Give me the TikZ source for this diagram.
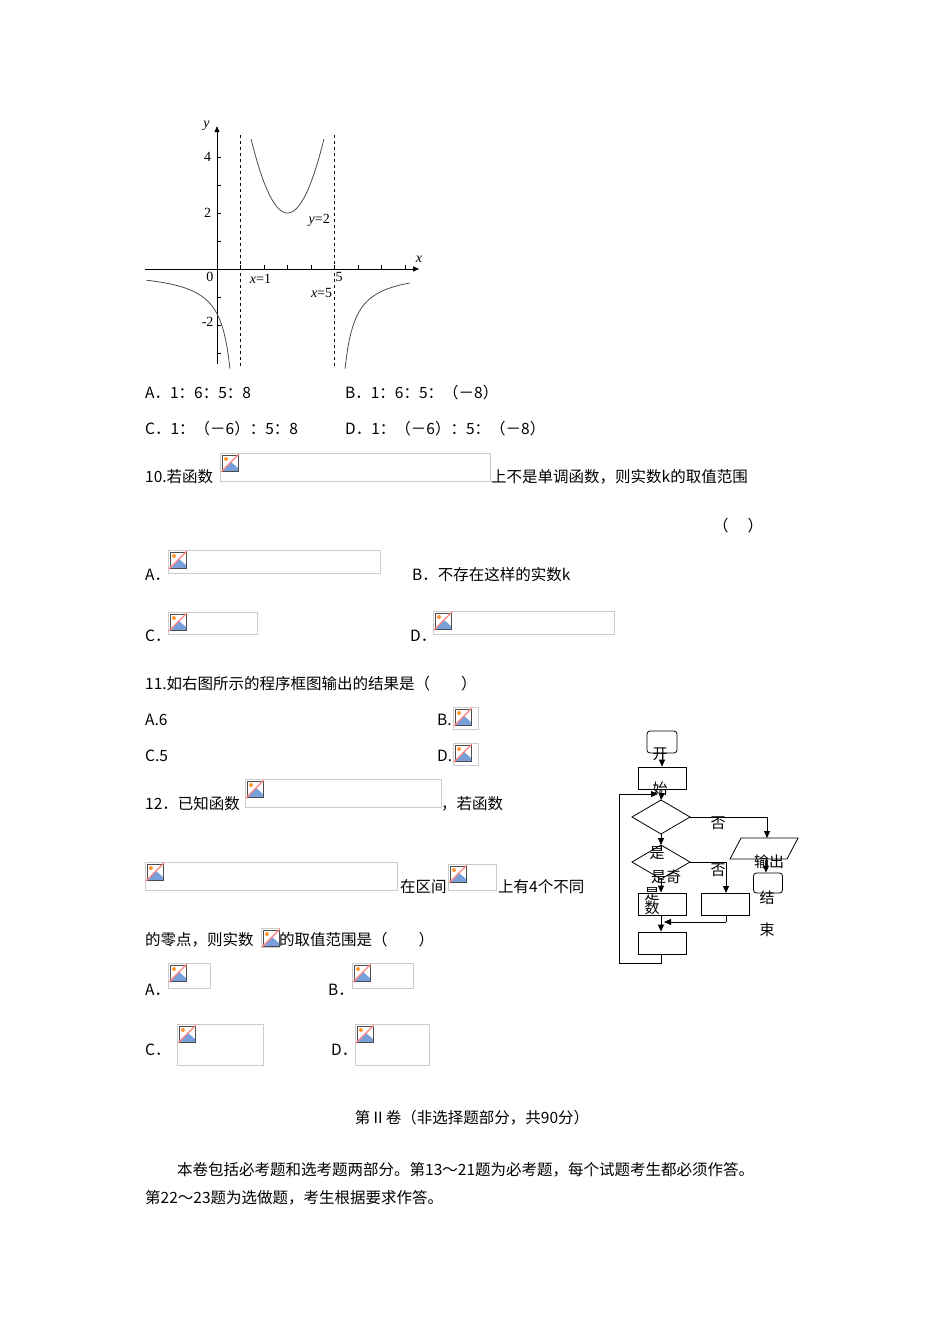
\documentclass[tikz,border=0pt]{standalone}
\usepackage{fontspec}
\setmainfont{Liberation Serif}
\newfontfamily\cjk{Noto Sans CJK SC}
\usetikzlibrary{arrows.meta}
\newcommand{\bimg}[4]{%
 \draw[draw=black!20,line width=0.8pt] (#1,#2) rectangle ++(#3,#4);
 \begin{scope}[shift={(#1+1,#2+1)}]
  \fill[white] (0,0) rectangle (18,18);
  \fill[cyan!50!blue!55] (2,17) -- (10,8) -- (17,14) -- (17,17) -- cycle;
  \draw[black!70,line width=0.7pt] (1,1) rectangle (17,17);
  \fill[orange!80] (5,5) circle (2);
  \draw[red!50,line width=1.2pt] (0,18) -- (18,0);
 \end{scope}}
\begin{document}
\begin{tikzpicture}[x=1pt,y=-1pt,font=\cjk\fontsize{15.5}{17}\selectfont,
 tx/.style={anchor=base west,inner sep=0},
 box/.style={draw,line width=0.8pt,minimum width=48pt,minimum height=22pt,inner sep=0},
 arr/.style={line width=0.8pt,-{Triangle[length=7pt,width=6pt]}},
 ln/.style={line width=0.8pt},
 gl/.style={font=\fontsize{14}{16}\selectfont\itshape,inner sep=1pt}]
\useasboundingbox (0,0) rectangle (950,1344);
% graph
\begin{scope}[shift={(217,269)},x=23.5pt,y=28pt]
 \draw[line width=0.7pt,-{Triangle[length=6pt,width=5pt]}] (-3.05,0) -- (8.6,0);
 \node[gl] at (8.6,0.35) {x};
 \draw[line width=0.7pt,-{Triangle[length=6pt,width=5pt]}] (0,-3.4) -- (0,5.1);
 \node[gl] at (-0.45,5.1) {y};
 \foreach \i in {1,...,8} \draw (\i,0) -- (\i,0.15);
 \foreach \j in {-3,-2,-1,1,2,3,4} \draw (0,\j) -- (0.15,\j);
 \node[gl] at (-0.4,4) {\upshape 4};
 \node[gl] at (-0.4,2) {\upshape 2};
 \node[gl] at (-0.4,-1.9) {\upshape -2};
 \node[gl] at (-0.3,-0.3) {\upshape 0};
 \draw[dashed] (1,-3.45) -- (1,4.85);
 \draw[dashed] (5,-3.45) -- (5,4.85);
 \node[gl] at (1.85,-0.35) {x\upshape =1};
 \node[gl] at (5.2,-0.3) {\upshape 5};
 \node[gl] at (4.45,-0.85) {x\upshape =5};
 \node[gl] at (4.35,1.75) {y\upshape =2};
 \draw[gray!60!black,line width=0.8pt,domain=1.45:4.55,samples=60] plot (\x,{2+1.1*(\x-3)^2});
 \draw[gray!60!black,line width=0.8pt,domain=-3:0.55,samples=60] plot (\x,{-1.6/(1-\x)});
 \draw[gray!60!black,line width=0.8pt,domain=5.45:8.2,samples=60] plot (\x,{-1.6/(\x-5)});
\end{scope}
% text
\node[tx] at (145,398) {A．1：6：5：8};
\node[tx] at (345,398) {B．1：6：5：（－8）};
\node[tx] at (145,434) {C．1：（－6）：5：8};
\node[tx] at (345,434) {D．1：（－6）：5：（－8）};
\node[tx] at (145,482) {10.若函数};
\bimg{220}{453}{270}{28}
\node[tx] at (491,482) {上不是单调函数，则实数k的取值范围};
\node[tx] at (713,531) {（\quad\ ）};
\node[tx] at (145,580) {A．};\bimg{168}{550}{212}{23}
\node[tx] at (412,580) {B．不存在这样的实数k};
\node[tx] at (145,641) {C．};\bimg{168}{612}{89}{22}
\node[tx] at (410,641) {D．};\bimg{433}{611}{181}{23}
\node[tx] at (145,689) {11.如右图所示的程序框图输出的结果是（\qquad ）};
\node[tx] at (145,725) {A.6};
\node[tx] at (437,725) {B.};\bimg{453}{707}{25}{22}
\node[tx] at (145,761) {C.5};
\node[tx] at (437,761) {D.};\bimg{453}{743}{25}{22}
\node[tx] at (145,809) {12．已知函数};\bimg{245}{779}{196}{28}
\node[tx] at (441,809) {，若函数};
\bimg{145}{862}{252}{28}
\node[tx] at (400,892) {在区间};\bimg{448}{864}{48}{26}
\node[tx] at (498,892) {上有4个不同};
\node[tx] at (145,945) {的零点，则实数};\bimg{261}{928}{18}{19}
\node[tx] at (279,945) {的取值范围是（\qquad ）};
\node[tx] at (145,995) {A．};\bimg{168}{963}{42}{25}
\node[tx] at (328,995) {B．};\bimg{352}{963}{61}{25}
\node[tx] at (145,1055) {C．};\bimg{177}{1024}{86}{41}
\node[tx] at (331,1055) {D．};\bimg{355}{1024}{74}{41}
\node[anchor=base] at (472,1123) {第Ⅱ卷（非选择题部分，共90分）};
\node[tx] at (177,1175) {本卷包括必考题和选考题两部分。第13～21题为必考题，每个试题考生都必须作答。};
\node[tx] at (145,1203) {第22～23题为选做题，考生根据要求作答。};
% flowchart
\node[draw,rounded corners=3pt,line width=0.8pt,minimum width=30pt,minimum height=22pt,inner sep=0] (st) at (662,742) {};
\node[box] (r1) at (662,778) {};
\draw[ln] (632,817) coordinate (d1l) -- (661,800) coordinate (d1t) -- (690,817) coordinate (d1r) -- (661,834) coordinate (d1b) -- cycle;
\draw[ln] (632,862) coordinate (d2l) -- (661,845) coordinate (d2t) -- (690,862) coordinate (d2r) -- (661,879) coordinate (d2b) -- cycle;
\node[box] (r2) at (662,904) {};
\node[box] (r3) at (725,904) {};
\node[box] (r4) at (662,943) {};
\draw[ln] (741,838) coordinate (pt) -- (798,838) -- (787,859) -- (730,859) -- cycle;
\coordinate (pb) at (766,859);
\node[draw,rounded corners=3pt,line width=0.8pt,minimum width=29pt,minimum height=20pt,inner sep=0] (en) at (768,883) {};
\draw[arr] (st.south) -- (r1.north);
\draw[arr] (r1.south) -- (d1t);
\draw[arr] (d1r) -- (767,817) -- (767,838);
\draw[arr] (pb) -- (en.north -| pb);
\draw[arr] (d1b) -- (d2t);
\draw[arr] (d2r) -- (726,862) -- (726,893);
\draw[arr] (d2b) -- (r2.north -| d2b);
\draw[ln] (726,915) -- (726,922);
\draw[arr] (726,922) -- (664,922);
\draw[arr] (r2.south -| d2b) -- (r4.north -| d2b);
\draw[ln] (r4.south -| d2b) -- (661,963) -- (619,963) -- (619,794);
\draw[arr] (619,794) -- (658,794);
\begin{scope}[font=\cjk\fontsize{15}{16}\selectfont]
\node at (660,754) {开};
\node at (660,789) {始};
\node at (718,823) {否};
\node at (657,853) {是};
\node at (666,877) {是奇};
\node at (652,894) {是};
\node at (652,908) {数};
\node at (718,870) {否};
\node at (769,862) {输出};
\node at (767,898) {结};
\node at (767,930) {束};
\end{scope}
\end{tikzpicture}
\end{document}
